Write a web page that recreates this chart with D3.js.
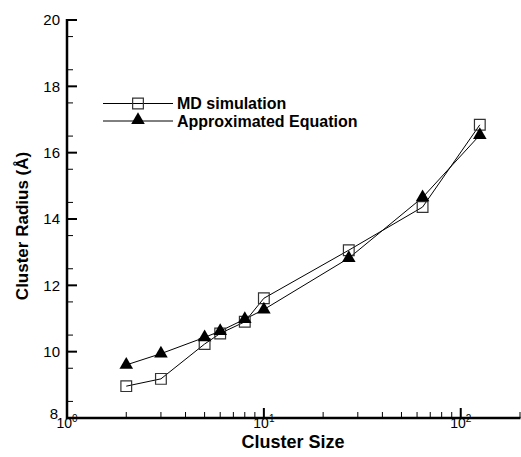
<!DOCTYPE html>
<html><head><meta charset="utf-8">
<script src="https://cdn.jsdelivr.net/npm/d3@7"></script>
<style>body{margin:0;background:#fff}svg{display:block}</style>
</head><body>
<svg id="c" width="521" height="457"></svg>
<script>
const clusterSizes = [2, 3, 5, 6, 8, 10, 27, 64, 125];
const mdSimulation = [8.96, 9.18, 10.23, 10.55, 10.9, 11.61, 13.06, 14.36, 16.84];
const approxEquation = [9.6, 9.94, 10.43, 10.62, 10.98, 11.27, 12.82, 14.65, 16.53];
const yTicks = [8, 10, 12, 14, 16, 18, 20];
const xMajor = [1, 10, 100];
const xMinor = [2,3,4,5,6,7,8,9,20,30,40,50,60,70,80,90,200];
const yMinor = d3.range(8.5, 20, 1);

const svg = d3.select("#c");
const x = d3.scaleLog().domain([1, 200]).range([67, 520]);
const y = d3.scaleLinear().domain([8, 20]).range([418, 20]);
const font = "'Liberation Sans', Arial, Helvetica, sans-serif";

const g = svg.append("g");
g.append("line").attr("x1", 67).attr("x2", 520.5).attr("y1", 418).attr("y2", 418)
  .attr("stroke", "#000").attr("stroke-width", 2.5);
g.append("line").attr("x1", 67).attr("x2", 67).attr("y1", 19).attr("y2", 419)
  .attr("stroke", "#000").attr("stroke-width", 2.5);

g.selectAll(".xmaj").data(xMajor).join("line")
  .attr("x1", d => x(d)).attr("x2", d => x(d)).attr("y1", 418).attr("y2", 408)
  .attr("stroke", "#000").attr("stroke-width", 2);
g.selectAll(".xmin").data(xMinor).join("line")
  .attr("x1", d => x(d)).attr("x2", d => x(d)).attr("y1", 418).attr("y2", 412)
  .attr("stroke", "#000").attr("stroke-width", 1);
g.selectAll(".ymaj").data(yTicks).join("line")
  .attr("x1", 67).attr("x2", 77).attr("y1", d => y(d)).attr("y2", d => y(d))
  .attr("stroke", "#000").attr("stroke-width", 2);
g.selectAll(".ymin").data(yMinor).join("line")
  .attr("x1", 67).attr("x2", 73).attr("y1", d => y(d)).attr("y2", d => y(d))
  .attr("stroke", "#000").attr("stroke-width", 1);

g.selectAll(".ylab").data(yTicks).join("text")
  .attr("x", d => d === 8 ? 58 : 60).attr("y", d => y(d) - (d === 8 ? 4 : 0)).attr("dy", "0.35em")
  .attr("text-anchor", "end").attr("font-family", font).attr("font-size", 15)
  .text(d => d);

const xl = g.selectAll(".xlab").data(xMajor).join("text")
  .attr("x", d => x(d)).attr("y", 428)
  .attr("text-anchor", "middle").attr("font-family", font).attr("font-size", 14);
xl.append("tspan").text("10");
xl.append("tspan").attr("dy", -6).attr("font-size", 10).text(d => Math.round(Math.log10(d)));

svg.append("text").attr("x", 293).attr("y", 448).attr("text-anchor", "middle")
  .attr("font-family", font).attr("font-weight", "bold").attr("font-size", 18)
  .text("Cluster Size");
svg.append("text").attr("transform", "translate(28,226) rotate(-90)")
  .attr("text-anchor", "middle")
  .attr("font-family", font).attr("font-weight", "bold").attr("font-size", 17)
  .text("Cluster Radius (Å)");

const md = clusterSizes.map((c, i) => [c, mdSimulation[i]]);
const ap = clusterSizes.map((c, i) => [c, approxEquation[i]]);
const line = d3.line().x(d => x(d[0])).y(d => y(d[1]));
svg.append("path").attr("d", line(md)).attr("fill", "none").attr("stroke", "#000").attr("stroke-width", 1);
svg.append("path").attr("d", line(ap)).attr("fill", "none").attr("stroke", "#000").attr("stroke-width", 1);

const sq = d3.symbol().type(d3.symbolSquare).size(115);
const tri = d3.symbol().type(d3.symbolTriangle).size(80);
svg.selectAll(".sq").data(md).join("path")
  .attr("transform", d => `translate(${x(d[0])},${y(d[1])})`)
  .attr("d", sq).attr("fill", "none").attr("stroke", "#333").attr("stroke-width", 1.2);
svg.selectAll(".tri").data(ap).join("path")
  .attr("transform", d => `translate(${x(d[0])},${y(d[1])})`)
  .attr("d", tri).attr("fill", "#000");

const legend = svg.append("g");
const legendItems = [
  {label: "MD simulation", y: 103.5, sym: "sq"},
  {label: "Approximated Equation", y: 121, sym: "tri"}
];
legendItems.forEach(it => {
  legend.append("line").attr("x1", 103).attr("x2", 173).attr("y1", it.y).attr("y2", it.y)
    .attr("stroke", "#000").attr("stroke-width", 1);
  if (it.sym === "sq") {
    legend.append("path").attr("transform", `translate(138,${it.y})`).attr("d", sq)
      .attr("fill", "none").attr("stroke", "#333").attr("stroke-width", 1.2);
  } else {
    legend.append("path").attr("transform", `translate(138,${it.y - 1})`).attr("d", tri)
      .attr("fill", "#000");
  }
  legend.append("text").attr("x", 177).attr("y", it.y).attr("dy", "0.36em")
    .attr("font-family", font).attr("font-weight", "bold").attr("font-size", 16)
    .text(it.label);
});
</script>
</body></html>
